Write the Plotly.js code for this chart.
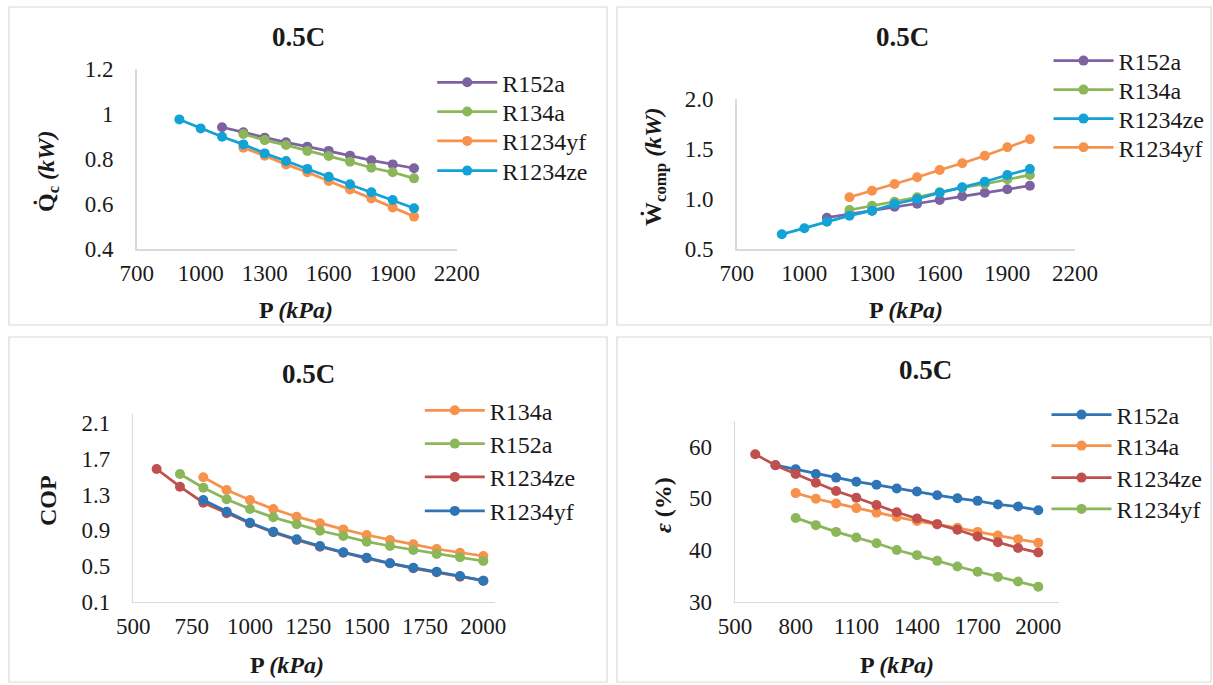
<!DOCTYPE html>
<html>
<head>
<meta charset="utf-8">
<script src="https://cdn.plot.ly/plotly-3.0.1.min.js"></script>
<style>html,body{margin:0;padding:0;background:#fff;}#chart{width:1213px;height:685px;}</style>
</head>
<body>
<div id="chart"></div>
<script>
// ---------- DATA ----------
// Panel 1: condenser heat Qc (kW)
const qcP_R152a   = [1100,1200,1300,1400,1500,1600,1700,1800,1900,2000];
const qc_R152a    = [0.941,0.919,0.895,0.874,0.855,0.836,0.815,0.794,0.776,0.759];
const qcP_R134a   = [1200,1300,1400,1500,1600,1700,1800,1900,2000];
const qc_R134a    = [0.911,0.884,0.862,0.836,0.813,0.788,0.761,0.741,0.714];
const qcP_R1234yf = [1200,1300,1400,1500,1600,1700,1800,1900,2000];
const qc_R1234yf  = [0.850,0.815,0.776,0.741,0.702,0.665,0.625,0.585,0.544];
const qcP_R1234ze = [900,1000,1100,1200,1300,1400,1500,1600,1700,1800,1900,2000];
const qc_R1234ze  = [0.976,0.936,0.899,0.865,0.825,0.791,0.756,0.721,0.688,0.652,0.618,0.581];

// Panel 2: compressor work Wcomp (kW)
const wP_R152a    = [1100,1200,1300,1400,1500,1600,1700,1800,1900,2000];
const w_R152a     = [0.816,0.850,0.885,0.925,0.955,0.993,1.030,1.066,1.100,1.136];
const wP_R134a    = [1200,1300,1400,1500,1600,1700,1800,1900,2000];
const w_R134a     = [0.893,0.936,0.976,1.020,1.070,1.116,1.153,1.200,1.243];
const wP_R1234ze  = [900,1000,1100,1200,1300,1400,1500,1600,1700,1800,1900,2000];
const w_R1234ze   = [0.650,0.710,0.776,0.836,0.886,0.953,1.003,1.066,1.120,1.176,1.243,1.303];
const wP_R1234yf  = [1200,1300,1400,1500,1600,1700,1800,1900,2000];
const w_R1234yf   = [1.020,1.086,1.153,1.220,1.293,1.360,1.436,1.520,1.600];

// Panel 3: COP
const copP_R134a   = [800,900,1000,1100,1200,1300,1400,1500,1600,1700,1800,1900,2000];
const cop_R134a    = [1.493,1.351,1.239,1.138,1.052,0.978,0.910,0.847,0.791,0.743,0.690,0.649,0.612];
const copP_R152a   = [700,800,900,1000,1100,1200,1300,1400,1500,1600,1700,1800,1900,2000];
const cop_R152a    = [1.530,1.377,1.247,1.138,1.045,0.967,0.895,0.836,0.772,0.724,0.679,0.634,0.597,0.556];
const copP_R1234ze = [600,700,800,900,1000,1100,1200,1300,1400,1500,1600,1700,1800,1900,2000];
const cop_R1234ze  = [1.586,1.388,1.209,1.090,0.978,0.877,0.791,0.716,0.649,0.586,0.530,0.474,0.429,0.380,0.335];
const copP_R1234yf = [800,900,1000,1100,1200,1300,1400,1500,1600,1700,1800,1900,2000];
const cop_R1234yf  = [1.239,1.108,0.985,0.884,0.799,0.724,0.653,0.593,0.530,0.481,0.436,0.388,0.335];

// Panel 4: exergy efficiency epsilon (%)
const eP_R152a   = [700,800,900,1000,1100,1200,1300,1400,1500,1600,1700,1800,1900,2000];
const e_R152a    = [56.4,55.6,54.7,54.0,53.2,52.6,51.9,51.3,50.6,50.0,49.5,48.8,48.4,47.7];
const eP_R134a   = [800,900,1000,1100,1200,1300,1400,1500,1600,1700,1800,1900,2000];
const e_R134a    = [51.0,49.9,49.0,48.1,47.2,46.4,45.6,45.0,44.3,43.5,42.8,42.1,41.4];
const eP_R1234ze = [600,700,800,900,1000,1100,1200,1300,1400,1500,1600,1700,1800,1900,2000];
const e_R1234ze  = [58.5,56.4,54.7,53.0,51.4,50.1,48.7,47.3,46.1,45.0,43.9,42.6,41.5,40.4,39.5];
const eP_R1234yf = [800,900,1000,1100,1200,1300,1400,1500,1600,1700,1800,1900,2000];
const e_R1234yf  = [46.2,44.8,43.5,42.4,41.3,40.0,39.0,37.9,36.8,35.8,34.8,33.9,32.9];

const panelTitle = "0.5C";
const xTitle = "<b>P <i>(kPa)</i></b>";
const yTitles = ["<b>Q\u0307<sub>c</sub> <i>(kW)</i></b>", "<b>\u1E86<sub>comp</sub> <i>(kW)</i></b>", "<b>COP</b>", "<b><i>\u03B5</i> (%)</b>"];

// ---------- STYLE ----------
const W = 1213, H = 685;
const FONT = "Liberation Serif";
const TXT = "#1a1a1a";
const C = {purple:"#7d62a1", green:"#8cb65a", orange:"#f7924c", cyan:"#12a2d6", red:"#c0504d", blue:"#2e75b6"};

function px(x){return x/W;}
function py(y){return 1 - y/H;}

let legendCount = 0;
const legends = {};
// legend entry placed at: line start x (px), centre y (px)
function tr(x, y, name, color, xa, ya, lx, ly){
  legendCount += 1;
  const key = legendCount === 1 ? "legend" : "legend" + legendCount;
  legends[key] = {x:px(lx - 5.5), y:py(ly), xanchor:"left", yanchor:"middle",
    font:{family:FONT, size:24, color:TXT}, bgcolor:"rgba(0,0,0,0)",
    itemwidth:60, traceorder:"normal"};
  return {x:x, y:y, name:name, type:"scatter", mode:"lines+markers",
    line:{color:color, width:2.75}, marker:{color:color, size:10},
    xaxis:xa, yaxis:ya, legend:key, hoverinfo:"x+y+name"};
}

const data = [
  tr(qcP_R152a, qc_R152a, "R152a", C.purple, "x", "y", 437.7, 82.7),
  tr(qcP_R134a, qc_R134a, "R134a", C.green, "x", "y", 437.7, 111.9),
  tr(qcP_R1234yf, qc_R1234yf, "R1234yf", C.orange, "x", "y", 437.7, 141.3),
  tr(qcP_R1234ze, qc_R1234ze, "R1234ze", C.cyan, "x", "y", 437.7, 171),

  tr(wP_R152a, w_R152a, "R152a", C.purple, "x2", "y2", 1054, 61),
  tr(wP_R134a, w_R134a, "R134a", C.green, "x2", "y2", 1054, 90),
  tr(wP_R1234ze, w_R1234ze, "R1234ze", C.cyan, "x2", "y2", 1054, 119),
  tr(wP_R1234yf, w_R1234yf, "R1234yf", C.orange, "x2", "y2", 1054, 147.7),

  tr(copP_R134a, cop_R134a, "R134a", C.orange, "x3", "y3", 425.3, 410.7),
  tr(copP_R152a, cop_R152a, "R152a", C.green, "x3", "y3", 425.3, 444),
  tr(copP_R1234ze, cop_R1234ze, "R1234ze", C.red, "x3", "y3", 425.3, 477.3),
  tr(copP_R1234yf, cop_R1234yf, "R1234yf", C.blue, "x3", "y3", 425.3, 511.3),

  tr(eP_R152a, e_R152a, "R152a", C.blue, "x4", "y4", 1052, 415),
  tr(eP_R134a, e_R134a, "R134a", C.orange, "x4", "y4", 1052, 446),
  tr(eP_R1234ze, e_R1234ze, "R1234ze", C.red, "x4", "y4", 1052, 478),
  tr(eP_R1234yf, e_R1234yf, "R1234yf", C.green, "x4", "y4", 1052, 509.3)
];

const tickFont = {family:FONT, size:23, color:TXT};

function xax(domain, range, tick0, dtick, anchor){
  return {domain:domain, range:range, tick0:tick0, dtick:dtick, anchor:anchor,
    showline:true, linecolor:"#d9d9d9", linewidth:1.5, showgrid:false, zeroline:false,
    ticks:"outside", ticklen:3, tickcolor:"rgba(0,0,0,0)", tickfont:tickFont, fixedrange:true};
}
function yax(domain, range, tick0, dtick, anchor, fmt){
  const a = {domain:domain, range:range, tick0:tick0, dtick:dtick, anchor:anchor,
    showline:true, linecolor:"#d9d9d9", linewidth:1.5, showgrid:false, zeroline:false,
    ticks:"outside", ticklen:17, tickcolor:"rgba(0,0,0,0)", tickfont:tickFont, fixedrange:true};
  if (fmt) a.tickformat = fmt;
  return a;
}

const borderColor = "#d9d9d9";
function border(x0,y0,x1,y1){
  return {type:"rect", xref:"paper", yref:"paper", x0:px(x0), x1:px(x1), y0:py(y1), y1:py(y0),
    line:{color:borderColor, width:1.2}, fillcolor:"rgba(0,0,0,0)", layer:"below"};
}
function label(text, x, y, size, angle){
  return {text:text, xref:"paper", yref:"paper", x:px(x), y:py(y), textangle:angle || 0,
    xanchor:"center", yanchor:"middle", showarrow:false, font:{family:FONT, size:size, color:TXT}};
}

const layout = Object.assign({
  width:W, height:H, margin:{l:0, r:0, t:0, b:0},
  paper_bgcolor:"#ffffff", plot_bgcolor:"rgba(0,0,0,0)",
  showlegend:true,
  xaxis:  xax([px(136.7), px(456.7)], [700, 2200], 700, 300, "y"),
  yaxis:  yax([py(249), py(69)], [0.4, 1.2], 0.4, 0.2, "x"),
  xaxis2: xax([px(736.7), px(1075)], [700, 2200], 700, 300, "y2"),
  yaxis2: yax([py(249.3), py(99.3)], [0.5, 2.0], 0.5, 0.5, "x2", ".1f"),
  xaxis3: xax([px(133.3), px(495)], [500, 2050], 500, 250, "y3"),
  yaxis3: yax([py(601.7), py(414.2)], [0.1, 2.2], 0.1, 0.4, "x3", ".1f"),
  xaxis4: xax([px(735), px(1058.5)], [500, 2100], 500, 300, "y4"),
  yaxis4: yax([py(601.7), py(420.7)], [30, 65], 30, 10, "x4"),
  shapes: [
    border(9, 7, 607, 325),
    border(617, 7, 1211, 325),
    border(9, 337, 607, 682),
    border(617, 337, 1211, 682)
  ],
  annotations: [
    label("<b>"+panelTitle+"</b>", 298, 37, 27),
    label("<b>"+panelTitle+"</b>", 902, 37, 27),
    label("<b>"+panelTitle+"</b>", 308, 374, 27),
    label("<b>"+panelTitle+"</b>", 925, 370, 27),
    label(xTitle, 296, 310, 24),
    label(xTitle, 906, 310, 24),
    label(xTitle, 287, 665, 24),
    label(xTitle, 897, 665, 24),
    label(yTitles[0], 48, 172, 24, -90),
    label(yTitles[1], 655, 167, 24, -90),
    label(yTitles[2], 48, 501, 24, -90),
    label(yTitles[3], 663, 505, 24, -90)
  ]
}, legends);

Plotly.newPlot("chart", data, layout, {displayModeBar:false, staticPlot:true});
</script>
</body>
</html>
